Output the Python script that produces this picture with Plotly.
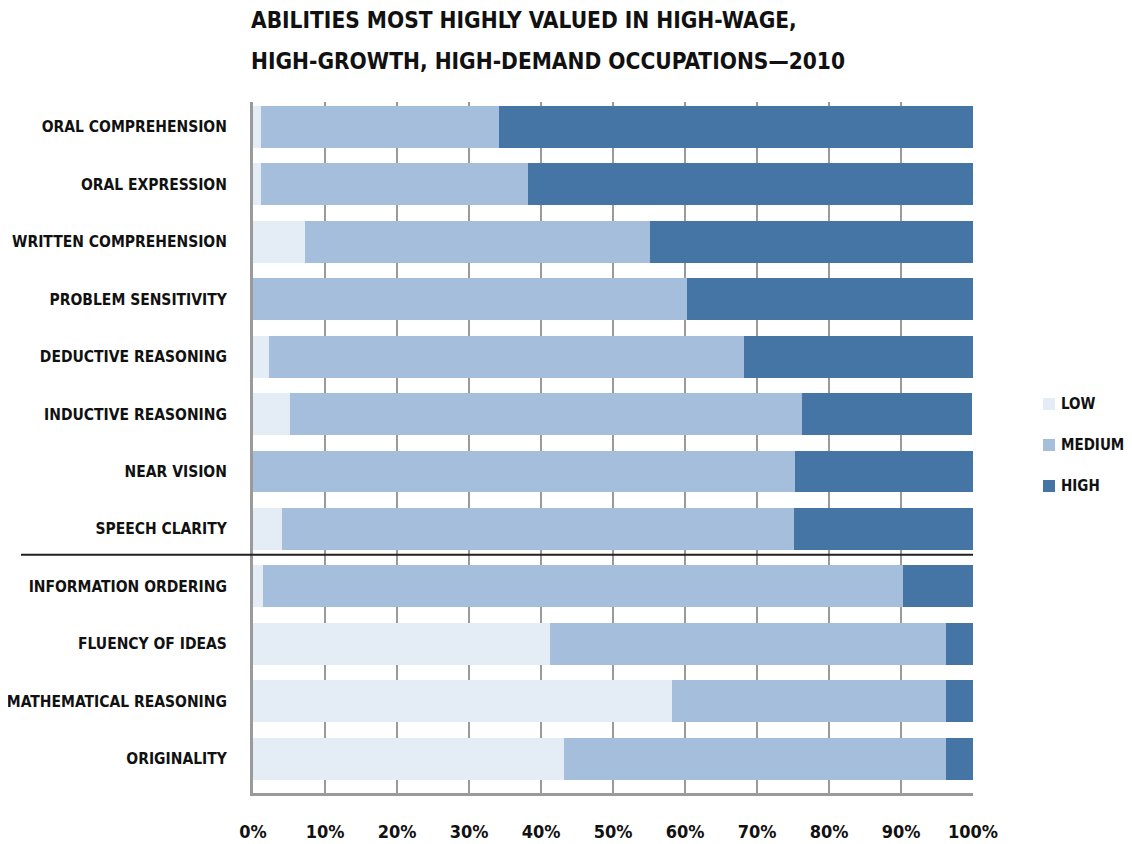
import plotly.graph_objects as go

# page body adds an 8px margin, so the figure is 8px smaller than the window
# and every screen position is laid out 8px up/left
PAGE_OFF = 8
W, H = 1132 - PAGE_OFF, 844 - PAGE_OFF
FONT = "DejaVu Sans Condensed"

abilities = [
    "ORAL COMPREHENSION",
    "ORAL EXPRESSION",
    "WRITTEN COMPREHENSION",
    "PROBLEM SENSITIVITY",
    "DEDUCTIVE REASONING",
    "INDUCTIVE REASONING",
    "NEAR VISION",
    "SPEECH CLARITY",
    "INFORMATION ORDERING",
    "FLUENCY OF IDEAS",
    "MATHEMATICAL REASONING",
    "ORIGINALITY",
]
low = [1.1, 1.1, 7.2, 0.0, 2.2, 5.1, 0.0, 4.0, 1.4, 41.3, 58.2, 43.2]
medium = [33.1, 37.1, 47.9, 60.3, 66.0, 71.1, 75.3, 71.1, 88.9, 55.0, 38.0, 53.0]
high = [65.8, 61.8, 44.9, 39.7, 31.8, 23.6, 24.7, 24.9, 10.1, 3.7, 3.8, 3.8]

levels = ["LOW", "MEDIUM", "HIGH"]
colors = {"LOW": "#E4ECF5", "MEDIUM": "#A4BEDC", "HIGH": "#4575A5"}

# plot area in screen pixels
X0, X1, Y0, Y1 = 253, 973, 102, 793
PW, PH = X1 - X0, Y1 - Y0


def px_x(x):
    return (x - X0) / PW


def px_y(y):
    return (Y1 - y) / PH


fig = go.Figure()
for name, vals in zip(levels, [low, medium, high]):
    fig.add_trace(go.Bar(
        y=list(range(len(abilities))), x=vals, name=name, orientation="h",
        marker=dict(color=colors[name], line=dict(width=0)),
        width=0.73, showlegend=False,
    ))

fig.update_layout(
    barmode="stack",
    width=W, height=H,
    margin=dict(l=X0 - PAGE_OFF, r=W - (X1 - PAGE_OFF), t=Y0 - PAGE_OFF, b=H - (Y1 - PAGE_OFF)),
    plot_bgcolor="white", paper_bgcolor="white",
    font=dict(family=FONT, color="#111111"),
    xaxis=dict(
        range=[0, 100], tickvals=list(range(0, 101, 10)),
        ticktext=[f"{v}%" for v in range(0, 101, 10)],
        showgrid=True, gridcolor="#9a9a9a", gridwidth=2,
        showline=True, linecolor="#9a9a9a", linewidth=3,
        zeroline=False, ticks="", ticklabelstandoff=20, automargin=False,
        tickfont=dict(size=18, family=FONT, color="#111111", weight="bold"),
    ),
    yaxis=dict(
        range=[11.6, -0.436], tickvals=list(range(len(abilities))),
        ticktext=abilities, showgrid=False, zeroline=False,
        showline=True, linecolor="#9a9a9a", linewidth=3,
        ticks="", ticklabelstandoff=20, automargin=False,
        tickfont=dict(size=15.5, family=FONT, color="#111111", weight="bold"),
    ),
)

title_lines = [
    ("ABILITIES MOST HIGHLY VALUED IN HIGH-WAGE,", 20.5),
    ("HIGH-GROWTH, HIGH-DEMAND OCCUPATIONS\u20142010", 61),
]
for text, ypx in title_lines:
    fig.add_annotation(
        text=f"<b>{text}</b>", xref="paper", yref="paper",
        x=px_x(249), y=px_y(ypx), xanchor="left", yanchor="middle",
        showarrow=False, font=dict(size=22.5, family=FONT, color="#111111"),
    )

# legend drawn by hand: swatch + label
legend_rows = [404, 445, 486]
for name, ypx in zip(levels, legend_rows):
    fig.add_shape(
        type="rect", xref="paper", yref="paper",
        x0=px_x(1043), x1=px_x(1055), y0=px_y(ypx + 6), y1=px_y(ypx - 6),
        fillcolor=colors[name], line=dict(width=0),
    )
    fig.add_annotation(
        text=f"<b>{name}</b>", xref="paper", yref="paper",
        x=px_x(1059), y=px_y(ypx), xanchor="left", yanchor="middle",
        showarrow=False, font=dict(size=15, family=FONT, color="#111111"),
    )

# separator between the top eight and the rest
fig.add_shape(
    type="line", xref="paper", yref="y",
    x0=px_x(21), x1=1.0, y0=7.45, y1=7.45,
    line=dict(color="#231f20", width=2),
)

fig.write_html("out.html")
